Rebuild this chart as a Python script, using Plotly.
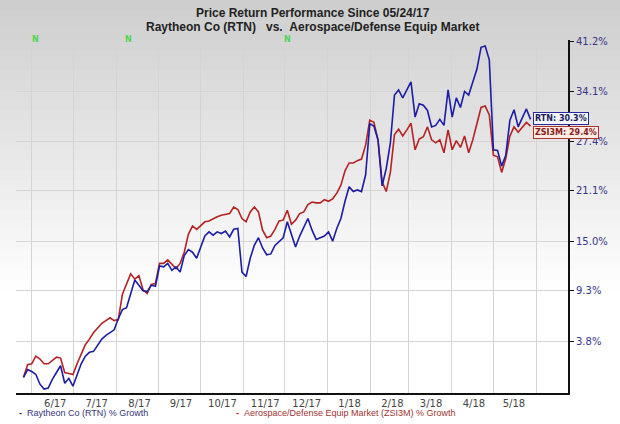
import plotly.graph_objects as go
import pandas as pd

# ---------------- data (percent growth since 05/24/17) ----------------
rtn_pct = [0.0, 0.8, 0.6, 0.3, -0.7, -1.2, -1.1, -0.2, 0.5, 1.2,
           -0.6, -0.1, -0.9, 0.3, 1.4, 2.2, 2.6, 2.7, 3.3, 4.0,
           4.4, 4.7, 5.0, 6.2, 7.2, 7.4, 9.0, 10.5, 9.9, 9.3,
           9.2, 9.9, 9.8, 12.1, 12.0, 12.4, 11.6, 12.0, 11.4, 13.3,
           14.0, 13.7, 13.0, 14.3, 15.6, 16.1, 15.7, 16.1, 15.9, 16.2,
           15.5, 16.4, 16.5, 11.4, 10.9, 13.0, 14.5, 15.4, 14.2, 13.4,
           13.5, 14.5, 14.9, 15.4, 17.3, 15.9, 14.3, 15.6, 16.7, 17.7,
           16.3, 15.2, 15.4, 15.6, 16.1, 15.0, 16.5, 17.7, 19.8, 21.6,
           21.0, 21.2, 21.0, 23.1, 29.7, 29.4, 27.6, 21.7, 23.9, 27.2,
           33.6, 34.3, 33.2, 34.4, 35.4, 30.6, 32.4, 32.2, 31.5, 29.3,
           29.5, 30.3, 29.5, 34.3, 30.6, 33.2, 31.9, 34.1, 33.6, 35.4,
           37.2, 40.3, 40.5, 38.5, 26.3, 26.2, 24.2, 25.6, 30.2, 31.6,
           29.3, 30.5, 31.7, 30.3]

zsi_pct = [0.0, 1.3, 1.4, 2.2, 1.9, 1.4, 1.4, 1.8, 2.1, 2.0,
           0.5, 0.4, 0.3, 1.4, 2.4, 3.4, 4.0, 4.7, 5.2, 5.7,
           6.0, 6.3, 6.0, 6.1, 8.9, 10.0, 11.2, 10.6, 11.0, 9.4,
           9.0, 10.0, 10.1, 12.4, 12.4, 12.8, 12.3, 11.8, 12.4, 13.7,
           15.8, 16.8, 16.4, 16.9, 17.3, 17.4, 17.7, 17.9, 18.1, 18.2,
           18.3, 19.1, 18.8, 17.7, 17.3, 18.5, 19.1, 18.5, 16.3, 15.4,
           15.6, 16.4, 17.4, 17.5, 18.7, 17.0, 17.5, 18.3, 18.5, 19.4,
           19.7, 19.6, 19.6, 20.0, 19.8, 20.1, 20.8, 21.8, 23.6, 24.6,
           24.6, 24.9, 25.1, 26.9, 30.2, 29.9, 27.6, 22.2, 21.0, 23.4,
           28.3, 29.0, 28.1, 28.9, 29.8, 26.3, 27.7, 28.0, 29.3, 27.6,
           27.2, 27.6, 25.9, 28.9, 26.3, 27.5, 26.6, 28.1, 25.9, 27.6,
           29.9, 31.9, 32.1, 30.9, 25.6, 25.4, 23.4, 25.2, 28.1, 29.3,
           28.6, 29.2, 29.9, 29.4]

dates = pd.date_range("2017-05-26", "2018-05-28", periods=len(rtn_pct))

y_tick_pct = [3.8, 9.3, 15.0, 21.1, 27.4, 34.1, 41.2]
month_labels = ["6/17", "7/17", "8/17", "9/17", "10/17", "11/17",
                "12/17", "1/18", "2/18", "3/18", "4/18", "5/18"]
month_label_dates = ["2017-06-18", "2017-07-18", "2017-08-18", "2017-09-17",
                     "2017-10-17", "2017-11-17", "2017-12-17", "2018-01-17",
                     "2018-02-17", "2018-03-17", "2018-04-17", "2018-05-16"]
news_dates = ["2017-06-04", "2017-08-10", "2017-12-03"]

rtn_name = "Raytheon Co (RTN) % Growth"
zsi_name = "Aerospace/Defense Equip Market (ZSI3M) % Growth"
rtn_last = rtn_pct[-1]
zsi_last = zsi_pct[-1]

BLUE = "#1c1ca6"
RED = "#b42222"
GRID = "#d4d4d4"

fig = go.Figure()
fig.add_trace(go.Scatter(x=dates, y=[1 + v / 100 for v in zsi_pct], mode="lines",
                         line=dict(color=RED, width=1.6), name=zsi_name))
fig.add_trace(go.Scatter(x=dates, y=[1 + v / 100 for v in rtn_pct], mode="lines",
                         line=dict(color=BLUE, width=1.6), name=rtn_name))

# ---------------- background gradient ----------------
L, R, T, B = 16, 568, 40, 393
W, H = R - L, B - T
shapes = []
band = 10
for i in range(0, 300, band):
    t = min(1.0, (i + band / 2) / 290.0)
    c = int(206 + (255 - 206) * t)
    shapes.append(dict(type="rect", xref="paper", yref="paper",
                       x0=-L / W, x1=(620 - L) / W,
                       y0=(B - (i + band)) / H, y1=(B - i) / H,
                       fillcolor=f"rgb({c},{c},{c})", line=dict(width=0),
                       layer="below"))

annotations = [
    dict(text="<b>Price Return Performance Since 05/24/17</b>", xref="paper", yref="paper",
         x=(313 - L) / W, y=(B - 13) / H, showarrow=False, xanchor="center", yanchor="middle",
         font=dict(family="Liberation Sans, Arial", size=12, color="#222")),
    dict(text="<b>Raytheon Co (RTN)\u00a0\u00a0\u00a0vs.\u00a0\u00a0Aerospace/Defense Equip Market</b>",
         xref="paper", yref="paper",
         x=(313 - L) / W, y=(B - 27) / H, showarrow=False, xanchor="center", yanchor="middle",
         font=dict(family="Liberation Sans, Arial", size=12, color="#222")),
    dict(text=f"<span style='color:{BLUE}'><b>-</b></span>\u00a0\u00a0{rtn_name}",
         xref="paper", yref="paper", x=(17 - L) / W, y=(B - 413) / H, showarrow=False,
         xanchor="left", yanchor="middle",
         font=dict(family="Liberation Sans, Arial", size=9, color="#34347e")),
    dict(text=f"<span style='color:{RED}'><b>-</b></span>\u00a0\u00a0{zsi_name}",
         xref="paper", yref="paper", x=(234 - L) / W, y=(B - 413) / H, showarrow=False,
         xanchor="left", yanchor="middle",
         font=dict(family="Liberation Sans, Arial", size=9, color="#a03232")),
    dict(text=f"<b>RTN: {rtn_last:.1f}%</b>", xref="paper", yref="paper",
         x=(533 - L) / W, y=(B - 119) / H, showarrow=False, xanchor="left", yanchor="middle",
         bgcolor="#f3f5fb", bordercolor="#2a2a9c", borderwidth=1, borderpad=1,
         font=dict(family="DejaVu Sans", size=8, color="#1b1b5e")),
    dict(text=f"<b>ZSI3M: {zsi_last:.1f}%</b>", xref="paper", yref="paper",
         x=(533 - L) / W, y=(B - 132.5) / H, showarrow=False, xanchor="left", yanchor="middle",
         bgcolor="#fbece4", bordercolor="#b03030", borderwidth=1, borderpad=1,
         font=dict(family="DejaVu Sans", size=8, color="#8a1c1c")),
]
for d in news_dates:
    annotations.append(dict(text="<b>N</b>", xref="x", yref="paper", x=d, y=(B - 39) / H,
                            showarrow=False, xanchor="center", yanchor="middle",
                            font=dict(family="DejaVu Sans", size=8, color="#4fd64f")))

fig.update_layout(
    width=620, height=424,
    margin=dict(l=L, r=620 - R, t=T, b=424 - B),
    paper_bgcolor="white", plot_bgcolor="rgba(0,0,0,0)",
    showlegend=False,
    shapes=shapes,
    annotations=annotations,
    xaxis=dict(type="date", range=["2017-05-20 14:00", "2018-06-24 03:00"],
               tickmode="array", tickvals=month_label_dates, ticktext=month_labels,
               showgrid=False, ticks="", zeroline=False,
               minor=dict(dtick="M1", tick0="2017-06-01", showgrid=True,
                          gridcolor=GRID, gridwidth=1, ticks=""),
               showline=True, linecolor="#111", linewidth=2,
               tickfont=dict(family="DejaVu Sans", size=10, color="#444")),
    yaxis=dict(type="log", range=[-0.00697, 0.15031], side="right",
               tickmode="array", tickvals=[1 + v / 100 for v in y_tick_pct],
               ticktext=[f"{v:.1f}%" for v in y_tick_pct],
               showgrid=True, gridcolor=GRID, gridwidth=1, zeroline=False,
               showline=True, linecolor="#111", linewidth=2,
               ticks="outside", ticklen=4, tickcolor="#111", tickwidth=1,
               tickfont=dict(family="DejaVu Sans", size=10, color="#35358a")),
)

fig.write_html("out.html", config={"displayModeBar": False},
               post_script="document.body.style.margin='0px';")
